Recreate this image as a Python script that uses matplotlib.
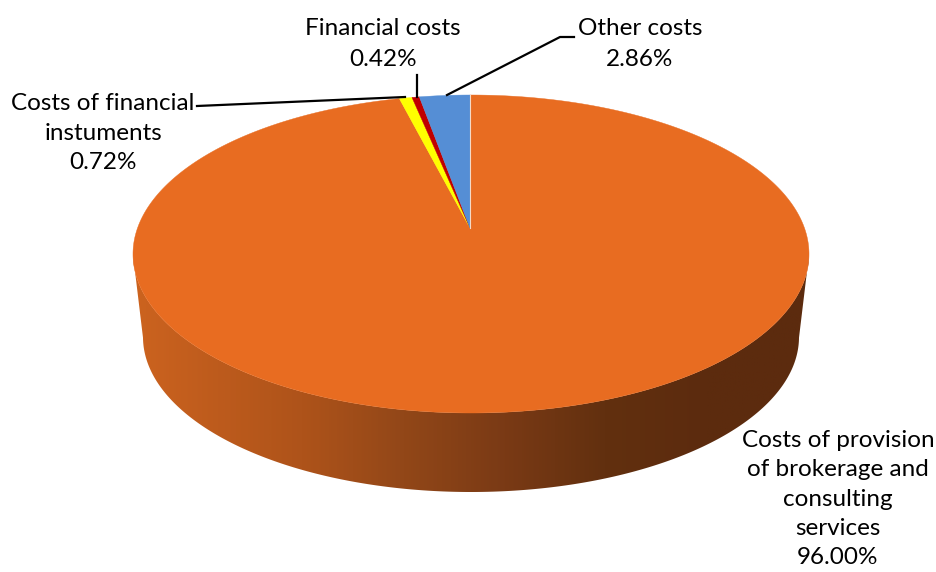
import numpy as np
import matplotlib
matplotlib.use("Agg")
import matplotlib.pyplot as plt
from matplotlib.patches import Polygon
from matplotlib.colors import LinearSegmentedColormap

# Dane wykresu (kolejnosc zgodnie z ruchem wskazowek zegara od godziny 12)
labels = ["Costs of provision\nof brokerage and\nconsulting\nservices",
          "Costs of financial\ninstuments",
          "Financial costs",
          "Other costs"]
values = [96.00, 0.72, 0.42, 2.86]
colors = ["#E86C21", "#FFFF00", "#C00000", "#558ED5"]

# geometria "3D" tortu w pikselach
W, H = 936, 572
cx, cy, rx, ry = 471, 254, 338, 159       # gorna elipsa
apex = (470, 228)                         # srodek tortu (perspektywa)
cxb, cyb, rxb, ryb = 471, 337, 328, 155   # dolna elipsa (podstawa)


def edge_point(theta):
    # przeciecie promienia z wierzcholka z gorna elipsa
    dx, dy = rx * np.sin(theta), -ry * np.cos(theta)
    px, py = apex[0] - cx, apex[1] - cy
    a = (dx / rx) ** 2 + (dy / ry) ** 2
    b = 2 * (px * dx / rx ** 2 + py * dy / ry ** 2)
    c = (px / rx) ** 2 + (py / ry) ** 2 - 1
    t = (-b + np.sqrt(b * b - 4 * a * c)) / (2 * a)
    return apex[0] + t * dx, apex[1] + t * dy


fig = plt.figure(figsize=(W / 100, H / 100), dpi=100)
ax = fig.add_axes([0, 0, 1, 1])
ax.set_xlim(0, W)
ax.set_ylim(H, 0)
ax.axis("off")

side_cmap = LinearSegmentedColormap.from_list(
    "side", [(0.0, "#CC631F"), (0.25, "#AE531A"), (0.40, "#924718"),
             (0.55, "#7A3A15"), (0.70, "#62300F"), (0.85, "#5C2B0E"),
             (1.0, "#5C2B0E")])

fracs = np.array(values) / sum(values)
starts = np.concatenate([[0], np.cumsum(fracs)[:-1]]) * 2 * np.pi
ends = np.cumsum(fracs) * 2 * np.pi

for s, e, col in zip(starts, ends, colors):
    th = np.linspace(s, e, max(int((e - s) * 200), 4))
    pts = np.array([edge_point(t) for t in th])

    # bok (widoczna przednia czesc)
    front = pts[pts[:, 1] > cy]
    if len(front) > 1:
        phi = np.arctan2((front[:, 1] - cy) / ry, (front[:, 0] - cx) / rx)
        bottom = np.column_stack([cxb + rxb * np.cos(phi), cyb + ryb * np.sin(phi)])
        side = Polygon(np.vstack([front, bottom[::-1]]), closed=True,
                       facecolor="none", edgecolor="none")
        ax.add_patch(side)
        if col == colors[0]:
            grad = np.tile(np.linspace(0, 1, 400), (10, 1))
            im = ax.imshow(grad, cmap=side_cmap, aspect="auto",
                           extent=[cx - rx, cx + rx, H, 0], zorder=1)
            im.set_clip_path(side)
        else:
            side.set_facecolor(col)

    top = Polygon(np.vstack([[apex], pts]), closed=True, facecolor=col,
                  edgecolor=col, lw=0.3, zorder=2)
    ax.add_patch(top)

# cienka jasna linia na styku o 12:00
x0, y0 = edge_point(0)
ax.plot([apex[0], x0], [apex[1], y0], color="#F5D9C5", lw=0.8, zorder=3)

# etykiety i linie odniesienia
fs = 17.5
font = "Lato"
pct = [f"{v:.2f}%" for v in values]

ax.text(838, 499, labels[0] + "\n" + pct[0], ha="center", va="center",
        fontsize=fs, family=font, linespacing=1.48)
ax.text(103, 133, labels[1] + "\n" + pct[1], ha="center", va="center",
        fontsize=fs, family=font, linespacing=1.48)
ax.text(383, 44, labels[2] + "\n" + pct[2], ha="center", va="center",
        fontsize=fs, family=font, linespacing=1.56)
ax.text(640, 44, labels[3] + "\n" + pct[3], ha="center", va="center",
        fontsize=fs, family=font, linespacing=1.56)

ax.plot([197, 405], [106, 97], color="black", lw=1.6, zorder=4)
ax.plot([417, 417], [75, 97], color="black", lw=1.6, zorder=4)
ax.plot([447, 560, 574], [95, 37, 37], color="black", lw=1.6, zorder=4)

fig.savefig("out.png", dpi=100)
